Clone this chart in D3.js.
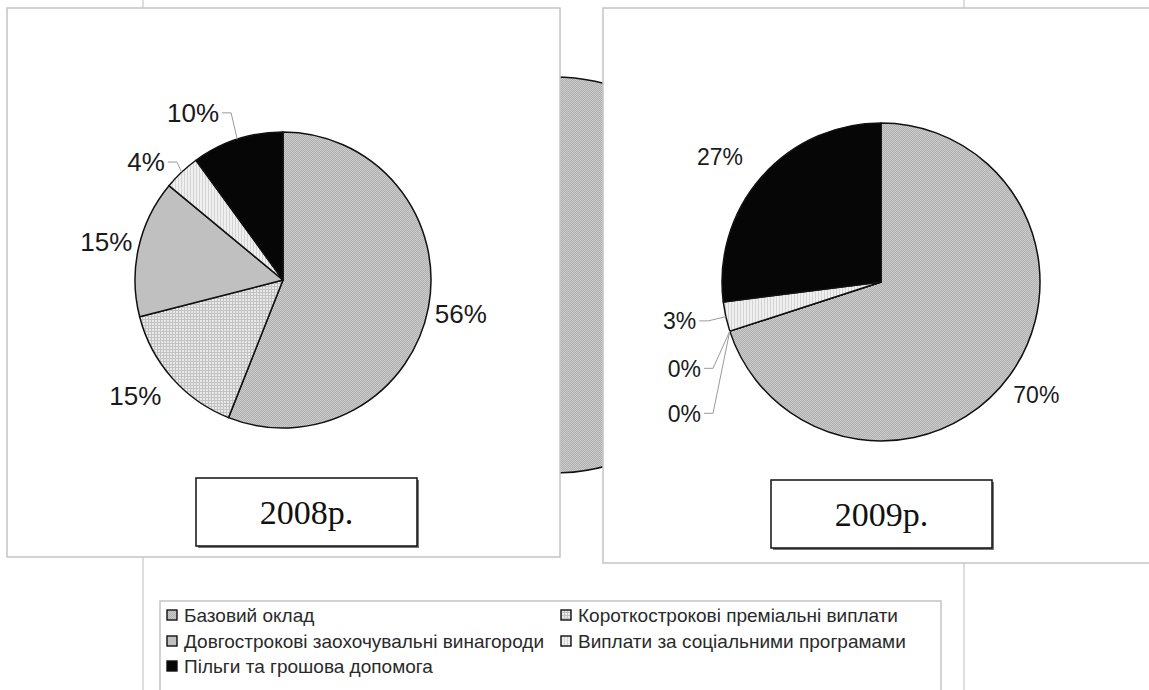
<!DOCTYPE html>
<html lang="uk">
<head>
  <meta charset="UTF-8">
  <title>Структура винагороди 2008-2009</title>
  <script src="https://d3js.org/d3.v7.min.js"></script>
  <style>
    body { margin: 0; padding: 0; background: #fff; }
    svg { display: block; }
    .pct { font-family: "Liberation Sans", Arial, sans-serif; fill: #1a1a1a; }
    .year { font-family: "Liberation Serif", "Times New Roman", serif; fill: #111; }
    .legend-text { font-family: "Liberation Sans", Arial, sans-serif; fill: #2a2a2a; }
  </style>
</head>
<body>
<script>
  // categories / values
  const categories = [
    "Базовий оклад",
    "Короткострокові преміальні виплати",
    "Довгострокові заохочувальні винагороди",
    "Виплати за соціальними програмами",
    "Пільги та грошова допомога"
  ]
  const values2008 = [56, 15, 15, 4, 10]
  const values2009 = [70, 0, 0, 3, 27]
  const years = ["2008р.", "2009р."]

  const width = 1149, height = 690

  const svg = d3.select("body").append("svg")
    .attr("width", width)
    .attr("height", height)

  // fills: pattern ids per category
  const defs = svg.append("defs")

  const pBase = defs.append("pattern").attr("id", "p0")
    .attr("width", 2).attr("height", 2).attr("patternUnits", "userSpaceOnUse")
  pBase.append("rect").attr("width", 2).attr("height", 2).attr("fill", "#cbcbcb")
  pBase.append("rect").attr("width", 1).attr("height", 1).attr("fill", "#b0b0b0")
  pBase.append("rect").attr("x", 1).attr("y", 1).attr("width", 1).attr("height", 1).attr("fill", "#b0b0b0")

  const pShort = defs.append("pattern").attr("id", "p1")
    .attr("width", 3).attr("height", 3).attr("patternUnits", "userSpaceOnUse")
  pShort.append("rect").attr("width", 3).attr("height", 3).attr("fill", "#e8e8e8")
  pShort.append("rect").attr("width", 3).attr("height", 1).attr("fill", "#c2c2c2")
  pShort.append("rect").attr("width", 1).attr("height", 3).attr("fill", "#c2c2c2")

  const pSocial = defs.append("pattern").attr("id", "p3")
    .attr("width", 3).attr("height", 3).attr("patternUnits", "userSpaceOnUse")
  pSocial.append("rect").attr("width", 3).attr("height", 3).attr("fill", "#efefef")
  pSocial.append("rect").attr("width", 1).attr("height", 3).attr("fill", "#d4d4d4")

  const fills = ["url(#p0)", "url(#p1)", "#c0c0c0", "url(#p3)", "#060606"]
  const color = d3.scaleOrdinal().domain(categories).range(fills)

  const pie = d3.pie().sort(null).value(d => d.value)

  // background: frame lines of the page behind the two charts
  svg.append("g").selectAll("line")
    .data([143, 964])
    .join("line")
      .attr("x1", d => d).attr("x2", d => d)
      .attr("y1", 0).attr("y2", height)
      .attr("stroke", "#c8c8c8").attr("stroke-width", 1.2)

  // the big pie that shows between the two frames
  const bgArc = d3.arc().innerRadius(0).outerRadius(198)
  svg.append("g")
    .attr("transform", "translate(554,275)")
    .selectAll("path")
    .data(pie(categories.map((c, i) => ({ cat: c, value: values2008[i] }))))
    .join("path")
      .attr("d", bgArc)
      .attr("fill", d => color(d.data.cat))
      .attr("stroke", "#111")
      .attr("stroke-width", 1.5)

  // each chart panel
  const panels = [
    { year: years[0], values: values2008, frame: [7, 8, 553, 549], cx: 283, cy: 280, r: 148,
      fontSize: 26, box: [196, 478, 221, 68],
      nudge: [[0, 0], [-12, -4], [0, 1], [-13, 14], [-34, 5]], leader: [false, false, false, true, true] },
    { year: years[1], values: values2009, frame: [603, 8, 560, 555], cx: 881, cy: 282, r: 159,
      fontSize: 23, box: [771, 480, 221, 68],
      nudge: [[0, 0], [-14, 27], [-14, 72], [-14, -3], [-17, 2]], leader: [false, true, true, true, false] }
  ]

  panels.forEach(p => {
    const g = svg.append("g")

    g.append("rect")
      .attr("x", p.frame[0]).attr("y", p.frame[1])
      .attr("width", p.frame[2]).attr("height", p.frame[3])
      .attr("fill", "#fff")
      .attr("stroke", "#c4c4c4").attr("stroke-width", 1.5)

    const data = pie(categories.map((c, i) => ({ cat: c, value: p.values[i] })))
    const arc = d3.arc().innerRadius(0).outerRadius(p.r)
    const labelArc = d3.arc().innerRadius(p.r + 33).outerRadius(p.r + 33)
    const edgeArc = d3.arc().innerRadius(p.r).outerRadius(p.r)

    const pg = g.append("g").attr("transform", `translate(${p.cx},${p.cy})`)

    pg.selectAll("path.slice")
      .data(data)
      .join("path")
        .attr("class", "slice")
        .attr("d", arc)
        .attr("fill", d => color(d.data.cat))
        .attr("stroke", "#111")
        .attr("stroke-width", 1.5)
        .attr("stroke-linejoin", "round")

    data.forEach((d, i) => {
      const c = labelArc.centroid(d)
      const lx = c[0] + p.nudge[i][0], ly = c[1] + p.nudge[i][1]
      const t = pg.append("text")
        .attr("class", "pct")
        .attr("x", lx).attr("y", ly)
        .attr("text-anchor", "middle")
        .attr("dy", "0.36em")
        .style("font-size", p.fontSize + "px")
        .text(d.data.value + "%")
      if (p.leader[i]) {
        const w = t.node().getComputedTextLength()
        const e = edgeArc.centroid(d)
        const x0 = lx + w / 2 + 3
        const elbow = x0 + 9
        pg.append("polyline")
          .attr("points", [[x0, ly], [elbow, ly], e].map(q => q.join(",")).join(" "))
          .attr("fill", "none")
          .attr("stroke", "#9a9a9a")
          .attr("stroke-width", 1)
      }
    })

    // year box
    g.append("rect")
      .attr("x", p.box[0] + 2).attr("y", p.box[1] + 2)
      .attr("width", p.box[2]).attr("height", p.box[3])
      .attr("fill", "#777")
    g.append("rect")
      .attr("x", p.box[0]).attr("y", p.box[1])
      .attr("width", p.box[2]).attr("height", p.box[3])
      .attr("fill", "#fff")
      .attr("stroke", "#111").attr("stroke-width", 1.5)
    g.append("text")
      .attr("class", "year")
      .attr("x", p.box[0] + p.box[2] / 2)
      .attr("y", p.box[1] + p.box[3] / 2)
      .attr("dy", "0.35em")
      .attr("text-anchor", "middle")
      .style("font-size", "34px")
      .text(p.year)
  })

  // legend
  const legend = svg.append("g")
  legend.append("rect")
    .attr("x", 160).attr("y", 601)
    .attr("width", 781).attr("height", 120)
    .attr("fill", "#fff")
    .attr("stroke", "#c4c4c4").attr("stroke-width", 1.5)

  const colX = [167, 561], rowY = [615, 641, 666]
  const item = legend.selectAll("g.item")
    .data(categories)
    .join("g")
      .attr("class", "item")
      .attr("transform", (d, i) => `translate(${colX[i % 2]},${rowY[Math.floor(i / 2)]})`)
  item.append("rect")
    .attr("x", 0).attr("y", -5)
    .attr("width", 10).attr("height", 10)
    .attr("fill", d => color(d))
    .attr("stroke", "#111").attr("stroke-width", 1.4)
  item.append("text")
    .attr("class", "legend-text")
    .attr("x", 17).attr("y", 0)
    .attr("dy", "0.35em")
    .style("font-size", "19px")
    .text(d => d)
</script>
</body>
</html>
